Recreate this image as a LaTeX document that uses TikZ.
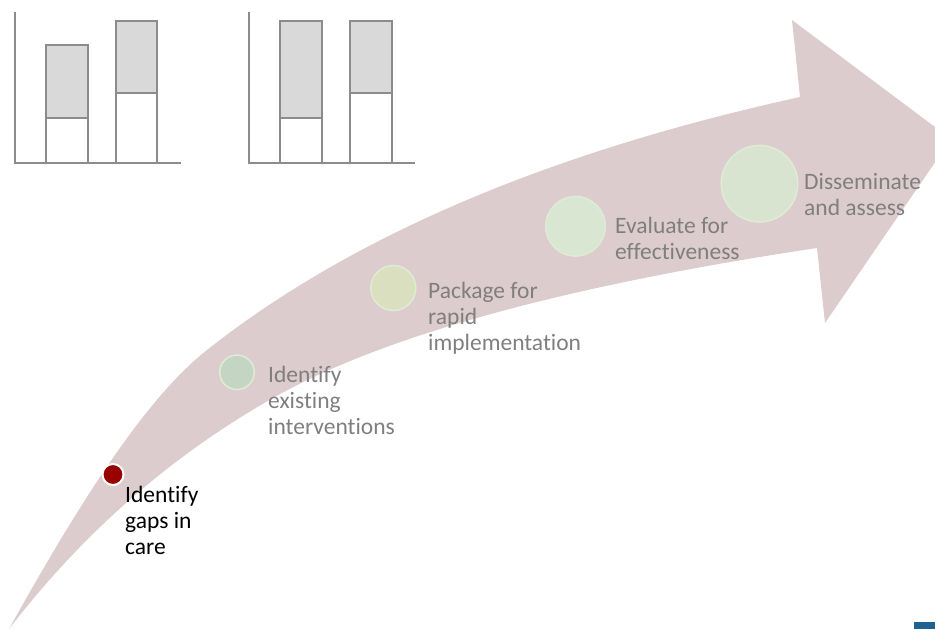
\documentclass[tikz,border=0pt]{standalone}
\usepackage{fontspec}
\setmainfont{Carlito}[RawFeature={-liga;-clig;-rlig;-calt;-dlig}]
\definecolor{arrowpink}{RGB}{221,204,205}
\definecolor{chartgray}{RGB}{140,140,140}
\definecolor{barfillgray}{RGB}{217,217,217}
\definecolor{labelgray}{RGB}{127,127,127}
\definecolor{dotred}{RGB}{153,0,0}
\definecolor{dotgreenA}{RGB}{196,213,196}
\definecolor{dotyellow}{RGB}{218,223,191}
\definecolor{dotgreenB}{RGB}{216,230,210}
\definecolor{dotgreenC}{RGB}{216,228,208}
\definecolor{dotrim}{RGB}{222,236,214}
\definecolor{cornerblue}{RGB}{31,99,145}
\begin{document}
\begin{tikzpicture}[x=1pt,y=-1pt,
  chartline/.style={draw=chartgray, line width=2.4pt},
  stepdot/.style={circle, inner sep=0pt, draw=dotrim, line width=1.5pt},
  steplabel/.style={anchor=north west, inner sep=0pt, align=left,
     font=\fontsize{23.5}{26}\selectfont, text=labelgray}]
\useasboundingbox (0,0) rectangle (935,629);
% arrow
\begin{scope}
\clip (0,0) rectangle (935,629);
\fill[arrowpink] (9,629)
  .. controls (89.9,483.3) and (152,393.3) .. (207,350)
  .. controls (350.3,236.7) and (548,152.3) .. (800,97)
  -- (792,20) -- (951,139) -- (825,323) -- (817,248)
  .. controls (563.7,286) and (382.3,336) .. (273,398)
  .. controls (171,455.8) and (83,532.8) .. (9,629)
  -- cycle;
\end{scope}
% chart 1
\draw[chartline, fill=barfillgray] (46,118) rectangle (88,45);
\draw[chartline, fill=white] (46,163) rectangle (88,118);
\draw[chartline, fill=barfillgray] (116,93) rectangle (157,21);
\draw[chartline, fill=white] (116,163) rectangle (157,93);
\draw[chartline] (15,12) -- (15,163) -- (181,163);
% chart 2
\draw[chartline, fill=barfillgray] (280,118) rectangle (322,21);
\draw[chartline, fill=white] (280,163) rectangle (322,118);
\draw[chartline, fill=barfillgray] (350,93) rectangle (392,21);
\draw[chartline, fill=white] (350,163) rectangle (392,93);
\draw[chartline] (249,12) -- (249,163) -- (415,163);
% step dots
\node[stepdot, fill=dotred, draw=white, line width=2pt, minimum size=21pt] (c1) at (113,474.5) {};
\node[stepdot, fill=dotgreenA, minimum size=34.5pt] (c2) at (237,372.3) {};
\node[stepdot, fill=dotyellow, minimum size=45pt] (c3) at (393.3,288) {};
\node[stepdot, fill=dotgreenB, minimum size=59.5pt] (c4) at (575.5,226.3) {};
\node[stepdot, fill=dotgreenC, minimum size=76.5pt] (c5) at (759.5,183.7) {};
% labels
\node[steplabel, text=black] (t1) at (125,485.5) {Identify\\gaps in\\care};
\node[steplabel] (t2) at (268,365.5) {Identify\\existing\\interventions};
\node[steplabel] (t3) at (428,281.5) {Package for\\rapid\\implementation};
\node[steplabel] (t4) at (615,216.5) {Evaluate for\\effectiveness};
\node[steplabel] (t5) at (804,173.5) {Disseminate\\and assess};
% corner mark
\fill[cornerblue] (914,622) rectangle (935,629);
\end{tikzpicture}
\end{document}
